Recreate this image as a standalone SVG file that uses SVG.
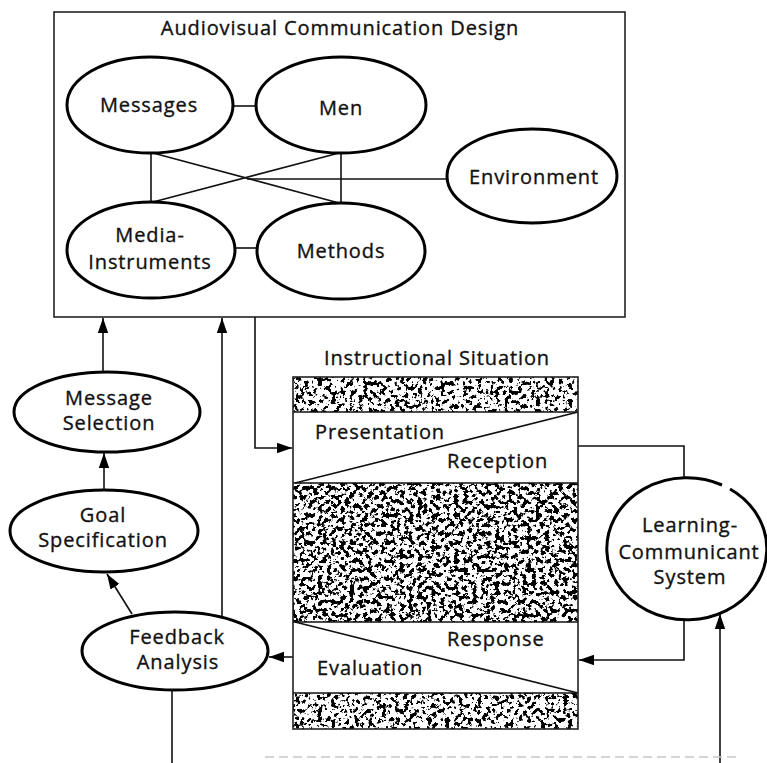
<svg xmlns="http://www.w3.org/2000/svg" width="767" height="763" viewBox="0 0 767 763">
  <style>
    .t { font-family: "Open Sans", "DejaVu Sans", sans-serif; font-size: 20px; letter-spacing: 0.9px; fill: #111; stroke: #111; stroke-width: 0.35px; text-anchor: middle; }
    .ts { text-anchor: start; }
    .node { fill: #fff; stroke: #000; stroke-width: 3; }
    .frame { fill: none; stroke: #222; stroke-width: 1.6; }
    .link { fill: none; stroke: #111; stroke-width: 1.6; }
    .arrow { fill: none; stroke: #111; stroke-width: 1.6; marker-end: url(#head); }
    .faint { fill: none; stroke: #c8c8c8; stroke-width: 1.4; stroke-dasharray: 9 5; }
  </style>
  <defs>
    <marker id="head" markerUnits="userSpaceOnUse" markerWidth="16" markerHeight="12" refX="15" refY="6" orient="auto">
      <path d="M0,0.8 L15,6 L0,11.2 Z" fill="#000"/>
    </marker>
    <!-- speckled ink texture for the shaded bands -->
    <filter id="grain" x="0" y="0" width="1" height="1" color-interpolation-filters="sRGB">
      <feTurbulence type="fractalNoise" baseFrequency="0.22" numOctaves="3" seed="11"/>
      <feColorMatrix type="matrix" values="0 0 0 0 0  0 0 0 0 0  0 0 0 0 0  -18 0 0 0 8.9"/>
    </filter>
    <filter id="grainLight" x="0" y="0" width="1" height="1" color-interpolation-filters="sRGB">
      <feTurbulence type="fractalNoise" baseFrequency="0.22" numOctaves="3" seed="4"/>
      <feColorMatrix type="matrix" values="0 0 0 0 0  0 0 0 0 0  0 0 0 0 0  -18 0 0 0 8.5"/>
    </filter>
  </defs>

  <rect width="767" height="763" fill="#fff"/>

  <!-- Audiovisual Communication Design frame -->
  <g id="design">
    <rect class="frame" x="54" y="12" width="571" height="305"/>
    <text class="t" x="340" y="35">Audiovisual Communication Design</text>
  </g>

  <!-- connectors -->
  <g id="connectors">
    <!-- inner design links -->
    <line class="link" x1="233" y1="106" x2="257" y2="106"/>
    <line class="link" x1="234" y1="248" x2="257" y2="248"/>
    <line class="link" x1="151" y1="153" x2="151" y2="202"/>
    <line class="link" x1="341" y1="153" x2="341" y2="203"/>
    <line class="link" x1="153" y1="153" x2="339" y2="203"/>
    <line class="link" x1="339" y1="153" x2="153" y2="202"/>
    <line class="link" x1="247" y1="179" x2="447" y2="179"/>

    <!-- planning chain -->
    <line class="arrow" x1="103" y1="372" x2="103" y2="318"/>
    <line class="arrow" x1="104" y1="490" x2="104" y2="453"/>
    <line class="arrow" x1="132" y1="614" x2="107" y2="574"/>
    <line class="arrow" x1="222" y1="617" x2="222" y2="318"/>
    <line class="link" x1="172" y1="690" x2="172" y2="763"/>

    <!-- design to presentation -->
    <polyline class="arrow" points="255,317 255,448 292,448"/>

    <!-- evaluation back to feedback analysis -->
    <line class="arrow" x1="293" y1="657" x2="269" y2="657"/>

    <!-- reception to learner and response back -->
    <polyline class="link" points="578,446 684,446 684,479"/>
    <polyline class="arrow" points="684,621 684,660 579,660"/>
    <line class="arrow" x1="720" y1="763" x2="720" y2="614"/>

    <!-- faint trace along the foot -->
    <line class="faint" x1="265" y1="757" x2="740" y2="757"/>
  </g>

  <!-- design components -->
  <g id="messages">
    <ellipse class="node" cx="150" cy="105" rx="83" ry="48"/>
    <text class="t" x="149" y="112">Messages</text>
  </g>
  <g id="men">
    <ellipse class="node" cx="341" cy="105" rx="85" ry="48"/>
    <text class="t" x="341" y="115">Men</text>
  </g>
  <g id="environment">
    <ellipse class="node" cx="532" cy="176" rx="85" ry="47"/>
    <text class="t" x="534" y="184">Environment</text>
  </g>
  <g id="media-instruments">
    <ellipse class="node" cx="151" cy="250" rx="84" ry="48"/>
    <text class="t" x="150" y="242">Media-</text>
    <text class="t" x="150" y="269">Instruments</text>
  </g>
  <g id="methods">
    <ellipse class="node" cx="341" cy="251" rx="84" ry="48"/>
    <text class="t" x="341" y="258">Methods</text>
  </g>

  <!-- planning chain nodes -->
  <g id="message-selection">
    <ellipse class="node" cx="107" cy="412" rx="93" ry="40"/>
    <text class="t" x="109" y="405">Message</text>
    <text class="t" x="109" y="430">Selection</text>
  </g>
  <g id="goal-specification">
    <ellipse class="node" cx="104" cy="531" rx="94" ry="41"/>
    <text class="t" x="103" y="522">Goal</text>
    <text class="t" x="103" y="547">Specification</text>
  </g>
  <g id="feedback-analysis">
    <ellipse class="node" cx="175" cy="651" rx="93" ry="39"/>
    <text class="t" x="177" y="644">Feedback</text>
    <text class="t" x="178" y="669">Analysis</text>
  </g>

  <!-- Instructional Situation -->
  <g id="instructional-situation">
    <text class="t" x="437" y="365">Instructional Situation</text>
    <rect x="293" y="377" width="285" height="35" fill="#000" filter="url(#grainLight)"/>
    <rect x="293" y="483" width="285" height="139" fill="#000" filter="url(#grain)"/>
    <rect x="293" y="693" width="285" height="36" fill="#000" filter="url(#grainLight)"/>
    <line class="link" x1="293" y1="412" x2="578" y2="412"/>
    <line class="link" x1="293" y1="483" x2="578" y2="483"/>
    <line class="link" x1="293" y1="622" x2="578" y2="622"/>
    <line class="link" x1="293" y1="693" x2="578" y2="693"/>
    <line class="link" x1="295" y1="483" x2="578" y2="412"/>
    <line class="link" x1="295" y1="622" x2="578" y2="693"/>
    <rect class="frame" x="293" y="377" width="285" height="352"/>
    <text class="t ts" x="315" y="439">Presentation</text>
    <text class="t ts" x="447" y="468">Reception</text>
    <text class="t ts" x="447" y="646">Response</text>
    <text class="t ts" x="317" y="675">Evaluation</text>
  </g>

  <!-- Learning-Communicant System (outline broken near the top right) -->
  <g id="learning-communicant-system">
    <ellipse cx="683" cy="550" rx="80" ry="71" fill="#fff"/>
    <path class="node" fill="none" d="M 730 489 A 80 71 0 1 1 722 485"/>
    <text class="t" x="690" y="532">Learning-</text>
    <text class="t" x="689" y="559">Communicant</text>
    <text class="t" x="690" y="584">System</text>
  </g>
</svg>
